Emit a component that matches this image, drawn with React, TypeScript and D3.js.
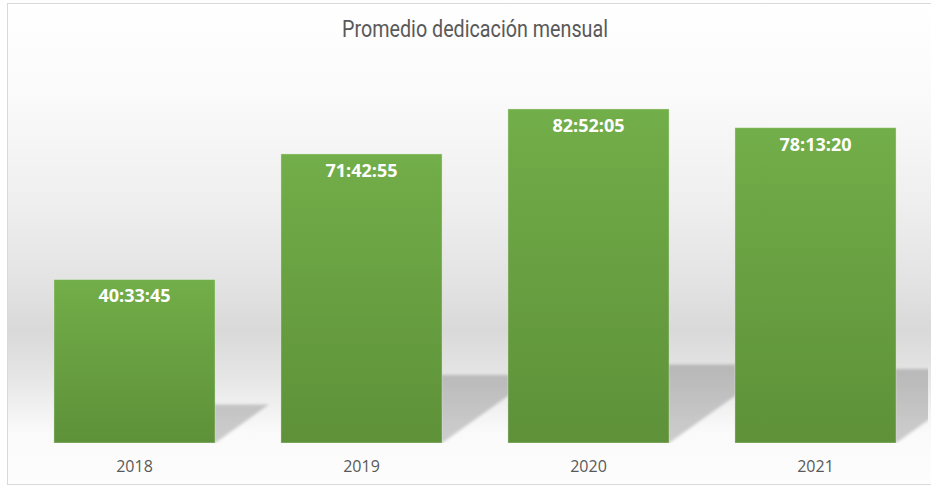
import React from "react";
import * as d3 from "d3";

const title = "Promedio dedicación mensual";
const categories = ["2018", "2019", "2020", "2021"];
const durations = ["40:33:45", "71:42:55", "82:52:05", "78:13:20"];
const yDomainMaxHours = 96;

const toHours = (s: string) => {
  const [h, m, sec] = s.split(":").map(Number);
  return h + m / 60 + sec / 3600;
};

const W = 931;
const H = 486;
const plotLeft = 21;
const plotRight = 929;
const plotTop = 56;
const plotBottom = 443;

export default function App() {
  const values = durations.map(toHours);
  const x = d3
    .scaleBand<string>()
    .domain(categories)
    .range([plotLeft, plotRight])
    .paddingInner(0.29)
    .paddingOuter(0.145);
  const y = d3.scaleLinear().domain([0, yDomainMaxHours]).range([plotBottom, plotTop]);

  const shadowPath = (i: number) => {
    const x0 = x(categories[i])!;
    const x1 = x0 + x.bandwidth();
    const barH = plotBottom - y(values[i]);
    const h = barH * 0.235;
    const dx = h * 1.4;
    const p = d3.path();
    p.moveTo(x0, plotBottom);
    p.lineTo(x1, plotBottom);
    p.lineTo(x1 + dx, plotBottom - h);
    p.lineTo(x0 + dx, plotBottom - h);
    p.closePath();
    return p.toString();
  };

  return (
    <svg
      width={W}
      height={H}
      style={{ position: "absolute", left: 0, top: 0, display: "block" }}
    >
      <defs>
        <linearGradient id="bg" x1="0" y1="0" x2="0" y2="1" gradientUnits="objectBoundingBox">
          <stop offset="0" stopColor="#ffffff" />
          <stop offset="0.2" stopColor="#fafafa" />
          <stop offset="0.41" stopColor="#efefef" />
          <stop offset="0.58" stopColor="#e3e3e3" />
          <stop offset="0.68" stopColor="#d9d9d9" />
          <stop offset="0.78" stopColor="#e6e6e6" />
          <stop offset="0.89" stopColor="#fafafa" />
          <stop offset="1" stopColor="#fdfdfd" />
        </linearGradient>
        <linearGradient id="barGrad" x1="0" y1="0" x2="0" y2="1">
          <stop offset="0" stopColor="#72ae49" />
          <stop offset="1" stopColor="#5e9139" />
        </linearGradient>
        <filter id="blur" x="-20%" y="-20%" width="140%" height="140%">
          <feGaussianBlur stdDeviation="1.5" />
        </filter>
        <clipPath id="plotClip">
          <rect x={8} y={4} width={920} height={plotBottom - 4} />
        </clipPath>
      </defs>
      <rect x={0} y={0} width={W} height={H} fill="#ffffff" />
      <rect x={7.5} y={3.5} width={930} height={481} fill="url(#bg)" stroke="#d9d9d9" strokeWidth={1} />
      <text
        x={475}
        y={37}
        textAnchor="middle"
        fontFamily="Roboto, 'DejaVu Sans', sans-serif"
        fontSize={23}
        fill="#595959"
        textLength={266}
        lengthAdjust="spacingAndGlyphs"
      >
        {title}
      </text>
      <g clipPath="url(#plotClip)">
        {categories.map((c, i) => (
          <path key={"s" + c} d={shadowPath(i)} fill="#000" fillOpacity={0.19} filter="url(#blur)" />
        ))}
      </g>
      {categories.map((c, i) => (
        <rect
          key={c}
          x={x(c)}
          y={y(values[i])}
          width={x.bandwidth()}
          height={plotBottom - y(values[i])}
          fill="url(#barGrad)"
          stroke="rgba(255,255,255,0.35)"
          strokeWidth={1}
        />
      ))}
      {categories.map((c, i) => (
        <text
          key={"l" + c}
          x={x(c)! + x.bandwidth() / 2}
          y={y(values[i]) + 23}
          textAnchor="middle"
          fontFamily="'Open Sans', sans-serif"
          fontWeight={700}
          fontSize={18}
          fill="#ffffff"
        >
          {durations[i]}
        </text>
      ))}
      {categories.map((c) => (
        <text
          key={"x" + c}
          x={x(c)! + x.bandwidth() / 2}
          y={472}
          textAnchor="middle"
          fontFamily="'Open Sans', sans-serif"
          fontSize={16}
          fill="#595959"
        >
          {c}
        </text>
      ))}
    </svg>
  );
}
